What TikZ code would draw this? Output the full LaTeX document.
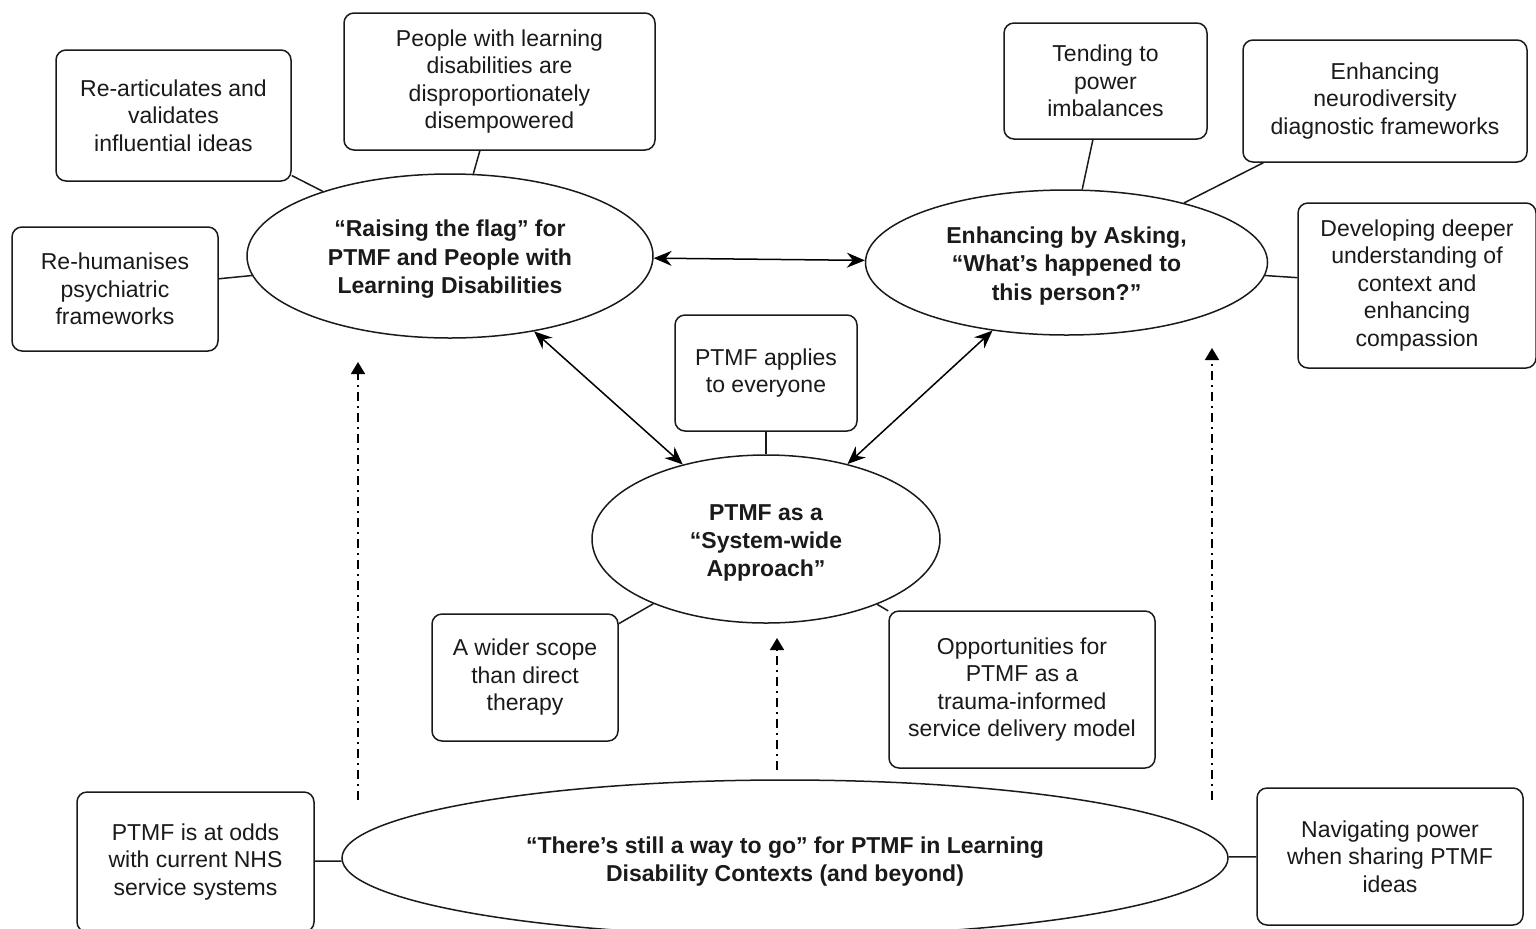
\documentclass[tikz,border=0pt]{standalone}
\usepackage{fontspec}
\setmainfont{Liberation Sans}
\usetikzlibrary{shapes.geometric,arrows.meta}
\definecolor{ink}{HTML}{1A1A1A}
\newcommand{\topstrut}{\rule{0pt}{11.8pt}}
\begin{document}
\begin{tikzpicture}[x=0.5pt,y=-0.5pt,
  every node/.style={font=\fontsize{11.5}{13.75}\selectfont, text=ink, align=center},
  box/.style={draw=ink, line width=0.75pt, rounded corners=5pt, inner sep=0pt, fill=white},
  oval/.style={draw=ink, line width=0.75pt, ellipse, inner sep=0pt, fill=white,
     font=\fontsize{11.5}{14.2}\selectfont\bfseries},
  link/.style={draw=ink, line width=0.75pt},
  biarrow/.style={draw=black, line width=0.75pt, {Stealth[length=9pt,width=7.5pt,inset=3pt]}-{Stealth[length=9pt,width=7.5pt,inset=3pt]}},
  dasharrow/.style={draw=black, line width=0.8pt, dash pattern=on 4.5pt off 2.5pt on 1pt off 2.5pt, -{Triangle[length=6pt,width=7pt]}}
]
\useasboundingbox (0,0) rectangle (1536,928);

% ellipses
\node[oval, minimum width=203pt, minimum height=82pt] (E1) at (450,256)
  {\topstrut“Raising the flag” for\\PTMF and People with\\Learning Disabilities};
\node[oval, minimum width=201pt, minimum height=72.5pt] (E2) at (1066.5,262.5)
  {\topstrut Enhancing by Asking,\\“What’s happened to\\this person?”};
\node[oval, minimum width=174pt, minimum height=84pt] (E3) at (766,539)
  {\topstrut PTMF as a\\“System-wide\\Approach”};
\node[oval, minimum width=443pt, minimum height=78pt] (E4) at (785,858)
  {\topstrut“There’s still a way to go” for PTMF in Learning\\Disability Contexts (and beyond)};

% boxes
\node[box, minimum width=117.5pt, minimum height=65.5pt] (A1) at (173.5,115.5)
  {Re-articulates and\\validates\\influential ideas};
\node[box, minimum width=155.5pt, minimum height=68.5pt] (A2) at (499.5,81.5)
  {People with learning\\disabilities are\\disproportionately\\disempowered};
\node[box, minimum width=103pt, minimum height=62pt] (A3) at (115,289)
  {Re-humanises\\psychiatric\\frameworks};
\node[box, minimum width=101.5pt, minimum height=58pt] (B1) at (1105.5,81)
  {Tending to\\power\\imbalances};
\node[box, minimum width=142pt, minimum height=61pt] (B2) at (1385,101)
  {Enhancing\\neurodiversity\\diagnostic frameworks};
\node[box, minimum width=119pt, minimum height=82.5pt] (B3) at (1417,285.5)
  {Developing deeper\\understanding of\\context and\\enhancing\\compassion};
\node[box, minimum width=91pt, minimum height=58pt] (C0) at (766,373)
  {PTMF applies\\to everyone};
\node[box, minimum width=93pt, minimum height=63.5pt] (C1) at (525,677.5)
  {A wider scope\\than direct\\therapy};
\node[box, minimum width=133pt, minimum height=78.5pt] (C2) at (1022,689.5)
  {Opportunities for\\PTMF as a\\trauma-informed\\service delivery model};
\node[box, minimum width=118.5pt, minimum height=70pt] (D1) at (195.5,862)
  {PTMF is at odds\\with current NHS\\service systems};
\node[box, minimum width=133pt, minimum height=68.5pt] (D2) at (1390,856.5)
  {Navigating power\\when sharing PTMF\\ideas};

% plain links
\draw[link] (A1) -- (E1);
\draw[link] (A2) -- (E1);
\draw[link] (A3) -- (E1);
\draw[link] (B1) -- (E2);
\draw[link] (B2) -- (E2);
\draw[link] (B3) -- (E2);
\draw[link] (C0) -- (E3);
\draw[link] (C1) -- (E3);
\draw[link] (C2) -- (E3);
\draw[link] (D1) -- (E4);
\draw[link] (D2) -- (E4);

% double arrows
\draw[biarrow] (E1) -- (E2);
\draw[biarrow] (E1) -- (E3);
\draw[biarrow] (E2) -- (E3);

% dash-dot arrows
\coordinate (s1) at (358,800);
\coordinate (t1) at (358,362);
\coordinate (s2) at (777,770);
\coordinate (t2) at (777,638);
\coordinate (s3) at (1212,800);
\coordinate (t3) at (1212,348);
\draw[dasharrow] (s1) -- (t1);
\draw[dasharrow] (s2) -- (t2);
\draw[dasharrow] (s3) -- (t3);
\end{tikzpicture}
\end{document}
